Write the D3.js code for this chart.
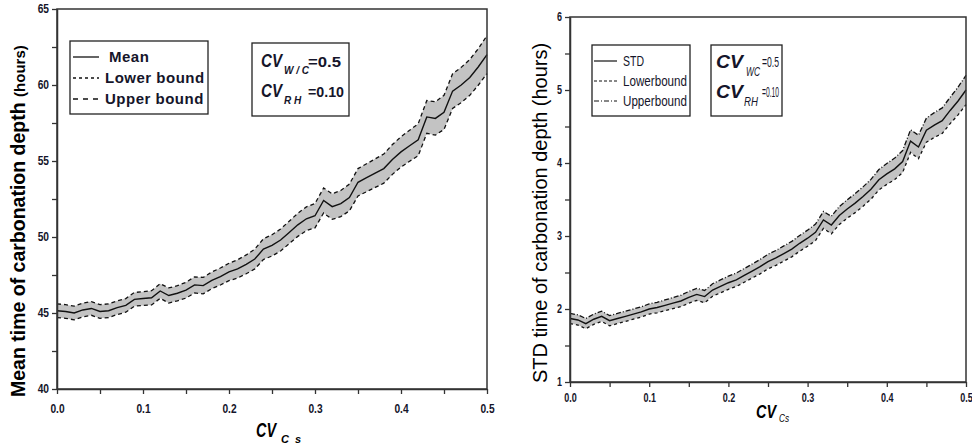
<!DOCTYPE html>
<html>
<head>
<meta charset="utf-8">
<script src="https://cdn.jsdelivr.net/npm/d3@7"></script>
<style>
  body { margin: 0; background: #fff; }
  svg { display: block; }
</style>
</head>
<body>
<div id="chart"></div>
<script>
// x values (CV of Cs) shared by both panels
var cvCs = [0.00, 0.01, 0.02, 0.03, 0.04, 0.05, 0.06, 0.07, 0.08, 0.09,
            0.10, 0.11, 0.12, 0.13, 0.14, 0.15, 0.16, 0.17, 0.18, 0.19,
            0.20, 0.21, 0.22, 0.23, 0.24, 0.25, 0.26, 0.27, 0.28, 0.29,
            0.30, 0.31, 0.32, 0.33, 0.34, 0.35, 0.36, 0.37, 0.38, 0.39,
            0.40, 0.41, 0.42, 0.43, 0.44, 0.45, 0.46, 0.47, 0.48, 0.49, 0.50];

// left panel: mean time of carbonation depth
var meanTime = [45.15, 45.10, 45.00, 45.20, 45.30, 45.10, 45.15, 45.35, 45.50, 45.90,
                45.95, 46.00, 46.45, 46.15, 46.30, 46.50, 46.85, 46.80, 47.15, 47.40,
                47.70, 47.90, 48.20, 48.55, 49.20, 49.45, 49.80, 50.30, 50.80, 51.20,
                51.40, 52.40, 52.00, 52.20, 52.60, 53.60, 53.90, 54.20, 54.50, 55.10,
                55.60, 56.00, 56.40, 57.90, 57.80, 58.20, 59.60, 60.00, 60.50, 61.20, 62.00];
var meanLower = [44.70, 44.65, 44.55, 44.75, 44.85, 44.65, 44.70, 44.90, 45.05, 45.45,
                 45.50, 45.53, 45.97, 45.65, 45.80, 45.98, 46.32, 46.26, 46.60, 46.84,
                 47.13, 47.30, 47.58, 47.90, 48.52, 48.75, 49.08, 49.56, 50.04, 50.42,
                 50.60, 51.58, 51.16, 51.34, 51.72, 52.70, 52.98, 53.26, 53.54, 54.12,
                 54.60, 54.98, 55.35, 56.82, 56.70, 57.08, 58.46, 58.84, 59.32, 60.00, 60.75];
var meanUpper = [45.60, 45.55, 45.45, 45.65, 45.75, 45.55, 45.60, 45.80, 45.95, 46.35,
                 46.40, 46.47, 46.93, 46.65, 46.80, 47.02, 47.38, 47.34, 47.70, 47.96,
                 48.27, 48.50, 48.82, 49.20, 49.88, 50.15, 50.52, 51.04, 51.56, 51.98,
                 52.20, 53.22, 52.84, 53.06, 53.48, 54.50, 54.82, 55.14, 55.46, 56.08,
                 56.60, 57.02, 57.45, 58.98, 58.90, 59.32, 60.74, 61.16, 61.68, 62.40, 63.25];

// right panel: STD time of carbonation depth
var stdTime = [1.87, 1.85, 1.80, 1.86, 1.90, 1.84, 1.87, 1.90, 1.93, 1.96,
               2.00, 2.02, 2.05, 2.08, 2.11, 2.16, 2.20, 2.17, 2.26, 2.31,
               2.36, 2.40, 2.46, 2.52, 2.58, 2.65, 2.70, 2.76, 2.82, 2.90,
               2.97, 3.05, 3.22, 3.15, 3.28, 3.37, 3.45, 3.54, 3.64, 3.77,
               3.85, 3.92, 4.02, 4.30, 4.22, 4.45, 4.52, 4.58, 4.72, 4.85, 5.00];
var stdLower = [1.80, 1.78, 1.73, 1.79, 1.83, 1.77, 1.80, 1.83, 1.86, 1.89,
                1.93, 1.948, 1.976, 2.004, 2.032, 2.08, 2.118, 2.086, 2.174, 2.222,
                2.27, 2.308, 2.366, 2.424, 2.482, 2.55, 2.598, 2.656, 2.714, 2.792,
                2.86, 2.937, 3.104, 3.03, 3.157, 3.244, 3.32, 3.407, 3.504, 3.63,
                3.707, 3.773, 3.87, 4.145, 4.06, 4.285, 4.35, 4.405, 4.54, 4.66, 4.80];
var stdUpper = [1.94, 1.92, 1.87, 1.93, 1.97, 1.91, 1.94, 1.97, 2.00, 2.03,
                2.07, 2.092, 2.124, 2.156, 2.188, 2.24, 2.282, 2.254, 2.346, 2.398,
                2.45, 2.492, 2.554, 2.616, 2.678, 2.75, 2.802, 2.864, 2.926, 3.008,
                3.08, 3.163, 3.336, 3.27, 3.403, 3.496, 3.58, 3.673, 3.776, 3.91,
                3.993, 4.067, 4.17, 4.455, 4.38, 4.615, 4.69, 4.755, 4.90, 5.04, 5.20];

// ticks
var xTicks = [0, 0.1, 0.2, 0.3, 0.4, 0.5];
var xMinorTicks = [0.05, 0.15, 0.25, 0.35, 0.45];
var meanTicks = [40, 45, 50, 55, 60, 65];
var meanMinorTicks = [42.5, 47.5, 52.5, 57.5, 62.5];
var stdTicks = [1, 2, 3, 4, 5, 6];
var stdMinorTicks = [1.5, 2.5, 3.5, 4.5, 5.5];

var svgWidth = 972;
var svgHeight = 445;

var svg = d3.select("#chart")
    .append("svg")
    .attr("width", svgWidth)
    .attr("height", svgHeight);

svg.append("rect").attr("width", svgWidth).attr("height", svgHeight).attr("fill", "#fff");

// squeeze text horizontally (the original figure is condensed)
var squeeze = function(sel, k) {
    sel.each(function() {
        var w = this.getComputedTextLength();
        d3.select(this).attr("textLength", w * k).attr("lengthAdjust", "spacingAndGlyphs");
    });
};
var fitTo = function(sel, len) {
    sel.attr("textLength", len).attr("lengthAdjust", "spacingAndGlyphs");
};

var drawPanel = function(p) {
    var x = d3.scaleLinear().domain([0, 0.5]).range([p.left, p.right]);
    var y = d3.scaleLinear().domain(p.yDomain).range([p.bottom, p.top]);
    var idx = d3.range(cvCs.length);
    var g = svg.append("g");

    // confidence band
    g.append("path")
        .datum(idx)
        .attr("fill", "#c3c3c3")
        .attr("d", d3.area()
            .x(function(i) { return x(cvCs[i]); })
            .y0(function(i) { return y(p.lower[i]); })
            .y1(function(i) { return y(p.upper[i]); }));

    var lineOf = function(arr) {
        return d3.line()
            .x(function(i) { return x(cvCs[i]); })
            .y(function(i) { return y(arr[i]); });
    };

    g.append("path").datum(idx)
        .attr("fill", "none").attr("stroke", "#111").attr("stroke-width", 1.3)
        .attr("stroke-dasharray", p.lowerDash)
        .attr("d", lineOf(p.lower));
    g.append("path").datum(idx)
        .attr("fill", "none").attr("stroke", "#111").attr("stroke-width", 1.3)
        .attr("stroke-dasharray", p.upperDash)
        .attr("d", lineOf(p.upper));
    g.append("path").datum(idx)
        .attr("fill", "none").attr("stroke", "#111").attr("stroke-width", 1.4)
        .attr("d", lineOf(p.mean));

    // frame
    g.append("rect")
        .attr("x", p.left).attr("y", p.top)
        .attr("width", p.right - p.left).attr("height", p.bottom - p.top)
        .attr("fill", "none").attr("stroke", "#333").attr("stroke-width", 1.5);

    // bottom axis
    var bottomAxis = g.append("g")
        .attr("transform", "translate(0," + p.bottom + ")")
        .call(d3.axisBottom(x).tickValues(xTicks).tickFormat(d3.format(".1f"))
            .tickSize(5).tickSizeOuter(0).tickPadding(p.xPad));
    g.append("g")
        .attr("transform", "translate(0," + p.bottom + ")")
        .call(d3.axisBottom(x).tickValues(xMinorTicks).tickFormat("").tickSize(5).tickSizeOuter(0))
        .select(".domain").remove();

    // left axis
    var leftAxis = g.append("g")
        .attr("transform", "translate(" + p.left + ",0)")
        .call(d3.axisLeft(y).tickValues(p.yTicks).tickFormat(d3.format("d"))
            .tickSize(5).tickSizeOuter(0).tickPadding(3));
    g.append("g")
        .attr("transform", "translate(" + p.left + ",0)")
        .call(d3.axisLeft(y).tickValues(p.yMinor).tickFormat("").tickSize(5).tickSizeOuter(0))
        .select(".domain").remove();

    g.selectAll(".domain").attr("stroke", "#333").attr("stroke-width", 1.5);
    g.selectAll(".tick line").attr("stroke", "#333").attr("stroke-width", 1.3);

    [bottomAxis, leftAxis].forEach(function(a) {
        a.selectAll("text")
            .attr("font-family", p.font)
            .attr("font-weight", "bold")
            .attr("font-size", p.tickSize)
            .attr("fill", "#15152a");
        squeeze(a.selectAll("text"), p.tickSqueeze);
    });

    // y axis title
    var yt = svg.append("text")
        .attr("transform", "translate(" + p.yTitleX + "," + p.yTitleY + ") rotate(-90)")
        .attr("font-family", p.font)
        .attr("font-weight", p.titleWeight)
        .attr("font-size", p.titleSize)
        .attr("fill", "#000");
    yt.append("tspan").text(p.yTitle);
    yt.append("tspan").attr("font-size", p.hoursSize).text("(hours)");

    return { x: x, y: y };
};

// ---------------- left panel ----------------
drawPanel({
    left: 57, right: 487, top: 9, bottom: 389,
    yDomain: [40, 65], yTicks: meanTicks, yMinor: meanMinorTicks,
    mean: meanTime, lower: meanLower, upper: meanUpper,
    lowerDash: "4,3", upperDash: "4,3",
    font: "Liberation Sans, Arial, sans-serif",
    tickSize: 12, tickSqueeze: 0.85, xPad: 10,
    yTitle: "Mean time of carbonation depth ", titleWeight: "bold", titleSize: 19.5, hoursSize: 15,
    yTitleX: 25, yTitleY: 397
});

// legend (left)
var legL = svg.append("g");
legL.append("rect").attr("x", 70).attr("y", 41).attr("width", 138).attr("height", 73)
    .attr("fill", "#fff").attr("stroke", "#222").attr("stroke-width", 1.3);
var legLItems = [
    { label: "Mean", dash: null, tx: 109 },
    { label: "Lower bound", dash: "3,3", tx: 105 },
    { label: "Upper bound", dash: "5,5", tx: 105 }
];
legLItems.forEach(function(d, i) {
    var cy = 57 + i * 21;
    legL.append("line").attr("x1", 73).attr("x2", 99).attr("y1", cy).attr("y2", cy)
        .attr("stroke", "#111").attr("stroke-width", 1.3)
        .attr("stroke-dasharray", d.dash);
    legL.append("text").attr("x", d.tx).attr("y", cy + 5)
        .attr("font-family", "Liberation Sans, Arial, sans-serif")
        .attr("font-weight", "bold").attr("font-size", 15)
        .attr("letter-spacing", 0.5)
        .attr("fill", "#15152a")
        .text(d.label);
});

// CV box (left)
var cvL = svg.append("g").attr("font-family", "Liberation Sans, Arial, sans-serif")
    .attr("font-weight", "bold").attr("fill", "#15152a");
cvL.append("rect").attr("x", 252).attr("y", 43).attr("width", 97).attr("height", 73)
    .attr("fill", "#fff").attr("stroke", "#222").attr("stroke-width", 1.3);
[{ sub: "W / C", val: "=0.5", base: 67, valLen: 33 },
 { sub: "R H", val: "=0.10", base: 97, valLen: 36 }].forEach(function(d) {
    cvL.append("text").attr("x", 261).attr("y", d.base).attr("font-size", 19)
        .attr("font-style", "italic").text("CV").call(fitTo, 21);
    cvL.append("text").attr("x", 284).attr("y", d.base + 7).attr("font-size", 10)
        .attr("font-style", "italic").text(d.sub);
    cvL.append("text").attr("x", 308).attr("y", d.base).attr("font-size", 15)
        .text(d.val).call(fitTo, d.valLen);
});

// x title (left)
svg.append("text").attr("x", 256).attr("y", 437)
    .attr("font-family", "Liberation Sans, Arial, sans-serif")
    .attr("font-weight", "bold").attr("font-style", "italic").attr("font-size", 20)
    .attr("fill", "#000").text("CV").call(fitTo, 20);
svg.append("text").attr("x", 281).attr("y", 443)
    .attr("font-family", "Liberation Sans, Arial, sans-serif")
    .attr("font-weight", "bold").attr("font-style", "italic").attr("font-size", 11)
    .attr("letter-spacing", 1.5)
    .attr("fill", "#000").text("C s");

// ---------------- right panel ----------------
drawPanel({
    left: 570, right: 966, top: 17, bottom: 382,
    yDomain: [1, 6], yTicks: stdTicks, yMinor: stdMinorTicks,
    mean: stdTime, lower: stdLower, upper: stdUpper,
    lowerDash: "3,3", upperDash: "5,2,1,2",
    font: "Liberation Sans, Arial, sans-serif",
    tickSize: 12, tickSqueeze: 0.75, xPad: 6,
    yTitle: "STD time of carbonation depth ", titleWeight: "normal", titleSize: 20, hoursSize: 20,
    yTitleX: 547, yTitleY: 383
});

// legend (right)
var legR = svg.append("g");
legR.append("rect").attr("x", 592).attr("y", 45).attr("width", 98).attr("height", 71)
    .attr("fill", "#fff").attr("stroke", "#222").attr("stroke-width", 1.3);
var legRItems = [
    { label: "STD", dash: null, len: 21 },
    { label: "Lowerbound", dash: "3,2", len: 64 },
    { label: "Upperbound", dash: "5,2,1,2", len: 64 }
];
legRItems.forEach(function(d, i) {
    var cy = 61 + i * 20;
    legR.append("line").attr("x1", 594).attr("x2", 617).attr("y1", cy).attr("y2", cy)
        .attr("stroke", "#111").attr("stroke-width", 1.2)
        .attr("stroke-dasharray", d.dash);
    legR.append("text").attr("x", 623).attr("y", cy + 5)
        .attr("font-family", "Liberation Sans, Arial, sans-serif")
        .attr("font-size", 14)
        .attr("fill", "#15152a")
        .text(d.label).call(fitTo, d.len);
});

// CV box (right)
var cvR = svg.append("g").attr("font-family", "Liberation Sans, Arial, sans-serif").attr("fill", "#15152a");
cvR.append("rect").attr("x", 711).attr("y", 45).attr("width", 71).attr("height", 71)
    .attr("fill", "#fff").attr("stroke", "#222").attr("stroke-width", 1.3);
[{ sub: "WC", val: "=0.5", base: 68, subX: 746, valLen: 17 },
 { sub: "RH", val: "=0.10", base: 98, subX: 744, valLen: 17 }].forEach(function(d) {
    cvR.append("text").attr("x", 716).attr("y", d.base).attr("font-size", 19)
        .attr("font-weight", "bold").attr("font-style", "italic").text("CV").call(fitTo, 27);
    cvR.append("text").attr("x", d.subX).attr("y", d.base + 8).attr("font-size", 12)
        .attr("font-style", "italic").text(d.sub).call(fitTo, 14);
    cvR.append("text").attr("x", 762).attr("y", d.base - 1).attr("font-size", 15)
        .text(d.val).call(fitTo, d.valLen);
});

// x title (right)
svg.append("text").attr("x", 756).attr("y", 418)
    .attr("font-family", "Liberation Sans, Arial, sans-serif")
    .attr("font-weight", "bold").attr("font-style", "italic").attr("font-size", 19)
    .attr("fill", "#000").text("CV").call(fitTo, 20);
svg.append("text").attr("x", 779).attr("y", 422)
    .attr("font-family", "Liberation Sans, Arial, sans-serif")
    .attr("font-style", "italic").attr("font-size", 11)
    .attr("fill", "#000").text("Cs").call(fitTo, 10);
</script>
</body>
</html>
